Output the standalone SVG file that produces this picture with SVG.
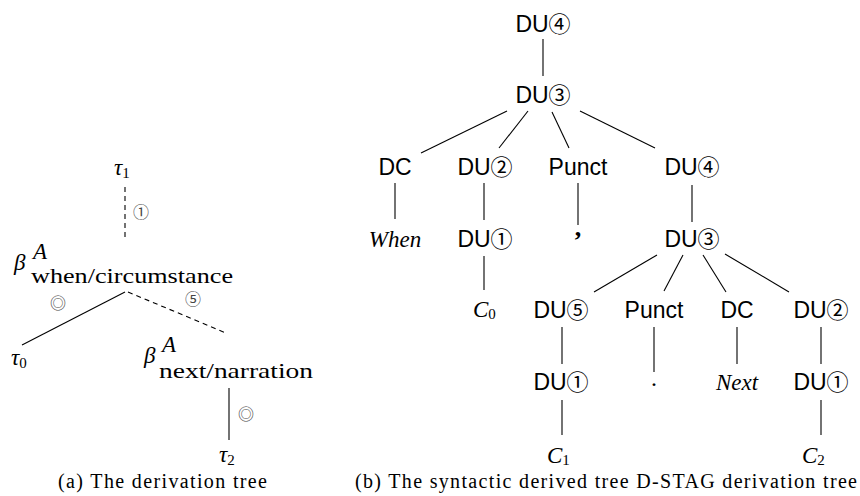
<svg xmlns="http://www.w3.org/2000/svg" width="860" height="496" viewBox="0 0 860 496">
<style>
.s{font-family:"Liberation Sans",Arial,sans-serif;font-size:23px;fill:#000;text-anchor:middle}
.c{font-family:"Noto Sans CJK JP","DejaVu Sans",sans-serif;font-size:22px}
.it{font-family:"Liberation Serif","Times New Roman",serif;font-style:italic;font-size:23px;fill:#000}
.rm{font-family:"Liberation Serif","Times New Roman",serif;fill:#000}
.sub{font-family:"Liberation Serif","Times New Roman",serif;font-style:normal;font-size:15px}
.e{stroke:#000;stroke-width:1.1;fill:none}
.d{stroke-dasharray:5 4}
.lab{font-family:"Noto Sans CJK JP","DejaVu Sans",sans-serif;font-size:16px;fill:#444;text-anchor:middle}
.cap{font-family:"Liberation Serif","Times New Roman",serif;font-size:20px;fill:#000}
</style>
<rect width="860" height="496" fill="#fff"/>
<g id="edges">
  <!-- left tree -->
  <line class="e d" x1="125" y1="187" x2="125" y2="238"/>
  <line class="e" x1="125" y1="292" x2="22" y2="345"/>
  <line class="e d" x1="128" y1="292" x2="226" y2="333"/>
  <line class="e" x1="229" y1="388" x2="229" y2="440"/>
  <!-- right tree -->
  <line class="e" x1="543" y1="39" x2="543" y2="76"/>
  <line class="e" x1="507" y1="111" x2="421" y2="153"/>
  <line class="e" x1="528" y1="111" x2="499" y2="148"/>
  <line class="e" x1="552" y1="112" x2="569" y2="148"/>
  <line class="e" x1="580" y1="111" x2="655" y2="148"/>
  <line class="e" x1="395" y1="183" x2="395" y2="219"/>
  <line class="e" x1="484" y1="183" x2="484" y2="220"/>
  <line class="e" x1="578" y1="183" x2="578" y2="225"/>
  <line class="e" x1="692" y1="185" x2="692" y2="222"/>
  <line class="e" x1="484" y1="256" x2="484" y2="290"/>
  <line class="e" x1="657" y1="255" x2="594" y2="292"/>
  <line class="e" x1="683" y1="255" x2="664" y2="291"/>
  <line class="e" x1="703" y1="255" x2="726" y2="292"/>
  <line class="e" x1="725" y1="254" x2="789" y2="292"/>
  <line class="e" x1="562" y1="327" x2="562" y2="364"/>
  <line class="e" x1="654" y1="327" x2="654" y2="372"/>
  <line class="e" x1="737" y1="327" x2="737" y2="364"/>
  <line class="e" x1="821" y1="327" x2="821" y2="364"/>
  <line class="e" x1="562" y1="400" x2="562" y2="435"/>
  <line class="e" x1="821" y1="400" x2="821" y2="435"/>
  <!-- edge labels -->
  <text class="lab" x="141" y="218">①</text>
  <text class="lab" x="58" y="309" font-size="15" fill="#666">◎</text>
  <text class="lab" x="193" y="305" font-size="15">⑤</text>
  <text class="lab" x="246" y="420" font-size="15" fill="#666">◎</text>
</g>
<!-- left tree nodes -->
<g id="tau1"><text class="it" x="114" y="175" font-size="26">τ<tspan class="sub" font-size="14" dy="3">1</tspan></text></g>
<g id="beta-when">
  <text class="it" x="14" y="270" font-size="24" fill="#444">β</text>
  <text class="it" x="33" y="259" font-size="15">A</text>
  <text class="rm" x="31" y="283" font-size="22" textLength="202" lengthAdjust="spacingAndGlyphs">when/circumstance</text>
</g>
<g id="tau0"><text class="it" x="11" y="365" font-size="26">τ<tspan class="sub" font-size="14" dy="3">0</tspan></text></g>
<g id="beta-next">
  <text class="it" x="144" y="363" font-size="24" fill="#444">β</text>
  <text class="it" x="162" y="352" font-size="15">A</text>
  <text class="rm" x="159" y="378" font-size="22" textLength="154" lengthAdjust="spacingAndGlyphs">next/narration</text>
</g>
<g id="tau2"><text class="it" x="219" y="462" font-size="26">τ<tspan class="sub" font-size="14" dy="3">2</tspan></text></g>
<!-- right tree nodes -->
<g id="r-du4"><text class="s" x="543" y="32">DU<tspan class="c">④</tspan></text></g>
<g id="r-du3"><text class="s" x="543" y="103">DU<tspan class="c">③</tspan></text></g>
<g id="r-dc1"><text class="s" x="395" y="175">DC</text></g>
<g id="r-du2a"><text class="s" x="485" y="175">DU<tspan class="c">②</tspan></text></g>
<g id="r-punct1"><text class="s" x="578" y="175">Punct</text></g>
<g id="r-du4b"><text class="s" x="692" y="175">DU<tspan class="c">④</tspan></text></g>
<g id="r-when"><text class="it" x="395" y="247" text-anchor="middle">When</text></g>
<g id="r-du1a"><text class="s" x="485" y="247">DU<tspan class="c">①</tspan></text></g>
<g id="r-comma"><text class="rm" x="578" y="236" font-size="26" font-weight="bold" text-anchor="middle">,</text></g>
<g id="r-du3b"><text class="s" x="692" y="247">DU<tspan class="c">③</tspan></text></g>
<g id="r-c0"><text class="it" x="473" y="317" font-size="25">C<tspan class="sub" font-size="17" dy="2">0</tspan></text></g>
<g id="r-du5"><text class="s" x="561" y="318">DU<tspan class="c">⑤</tspan></text></g>
<g id="r-punct2"><text class="s" x="654" y="318">Punct</text></g>
<g id="r-dc2"><text class="s" x="737" y="318">DC</text></g>
<g id="r-du2b"><text class="s" x="821" y="318">DU<tspan class="c">②</tspan></text></g>
<g id="r-du1b"><text class="s" x="561" y="390">DU<tspan class="c">①</tspan></text></g>
<g id="r-period"><text class="rm" x="654" y="386" font-size="24" text-anchor="middle">.</text></g>
<g id="r-next"><text class="it" x="737" y="390" text-anchor="middle">Next</text></g>
<g id="r-du1c"><text class="s" x="821" y="390">DU<tspan class="c">①</tspan></text></g>
<g id="r-c1"><text class="it" x="547" y="463" font-size="25">C<tspan class="sub" font-size="17" dy="2">1</tspan></text></g>
<g id="r-c2"><text class="it" x="802" y="463" font-size="25">C<tspan class="sub" font-size="17" dy="2">2</tspan></text></g>
<!-- captions -->
<text class="cap" x="58" y="488" textLength="209" lengthAdjust="spacing">(a) The derivation tree</text>
<text class="cap" x="355" y="488" textLength="502" lengthAdjust="spacing">(b) The syntactic derived tree D-STAG derivation tree</text>
</svg>
